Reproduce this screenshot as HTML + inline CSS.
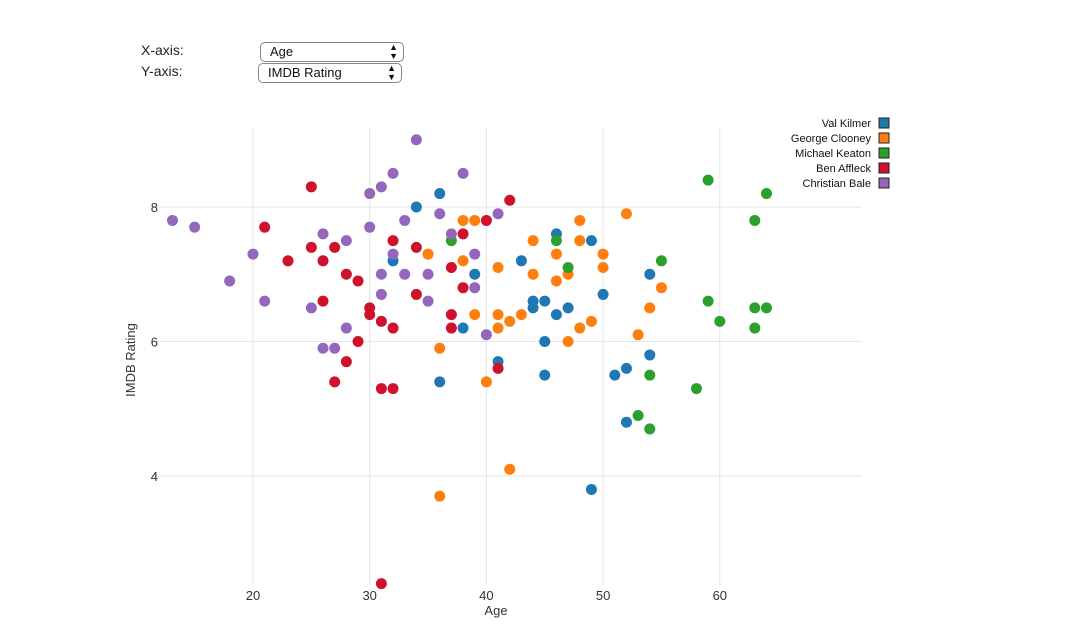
<!DOCTYPE html>
<html><head><meta charset="utf-8"><style>
body{margin:0;width:1084px;height:642px;background:#fff;font-family:"Liberation Sans",sans-serif;overflow:hidden;position:relative}
.lbl{position:absolute;font-size:14px;color:#222}
.sel{position:absolute;height:18px;border:1px solid #888;border-radius:5px;font-size:13px;line-height:18px;padding-left:9px;box-sizing:border-box;height:20px;color:#111;background:#fff}
.sel span.ar{position:absolute;right:5px;top:0;font-size:9px;line-height:9px}
</style></head><body>
<div class="lbl" style="left:141px;top:42px">X-axis:</div>
<div class="sel" style="left:260px;top:42px;width:144px">Age<span class="ar">▲<br>▼</span></div>
<div class="lbl" style="left:141px;top:63px">Y-axis:</div>
<div class="sel" style="left:258px;top:63px;width:144px">IMDB Rating<span class="ar">▲<br>▼</span></div>
<svg id="chart" width="1084" height="642" style="position:absolute;left:0;top:0" font-family="Liberation Sans, sans-serif"></svg>
<script>
const actors=["Val Kilmer","George Clooney","Michael Keaton","Ben Affleck","Christian Bale"];
const colors=["#1f77b4","#ff7f0e","#2ca02c","#d0112b","#9467bd"];
const xTicks=[20,30,40,50,60];
const yTicks=[4,6,8];
const valAge=[32,34,36,36,38,39,41,43,44,44,45,45,45,46,46,47,49,49,50,51,52,52,54,54];
const valRating=[7.2,8.0,8.2,5.4,6.2,7.0,5.7,7.2,6.6,6.5,6.6,6.0,5.5,7.6,6.4,6.5,7.5,3.8,6.7,5.5,5.6,4.8,7.0,5.8];
const georgeAge=[35,36,36,38,38,39,39,40,41,41,41,42,42,43,44,44,46,46,47,47,48,48,48,49,50,50,52,53,54,55];
const georgeRating=[7.3,5.9,3.7,7.8,7.2,7.8,6.4,5.4,7.1,6.4,6.2,6.3,4.1,6.4,7.5,7.0,7.3,6.9,7.0,6.0,7.8,7.5,6.2,6.3,7.3,7.1,7.9,6.1,6.5,6.8];
const michaelAge=[37,46,47,53,54,54,55,58,59,59,60,63,63,63,64,64];
const michaelRating=[7.5,7.5,7.1,4.9,5.5,4.7,7.2,5.3,8.4,6.6,6.3,7.8,6.5,6.2,8.2,6.5];
const benAge=[21,23,25,25,26,26,27,27,28,28,29,29,30,30,31,31,31,32,32,32,34,34,37,37,37,38,38,40,41,42];
const benRating=[7.7,7.2,8.3,7.4,7.2,6.6,7.4,5.4,7.0,5.7,6.9,6.0,6.5,6.4,6.3,5.3,2.4,7.5,6.2,5.3,7.4,6.7,7.1,6.4,6.2,7.6,6.8,7.8,5.6,8.1];
const christianAge=[13.1,15,18,20,21,25,26,28,28,26,27,30,30,31,31,31,32,32,33,33,34,35,35,36,37,38,39,39,40,41];
const christianRating=[7.8,7.7,6.9,7.3,6.6,6.5,7.6,7.5,6.2,5.9,5.9,8.2,7.7,8.3,7.0,6.7,8.5,7.3,7.8,7.0,9.0,7.0,6.6,7.9,7.6,8.5,7.3,6.8,6.1,7.9];
const series=[[valAge,valRating],[georgeAge,georgeRating],[michaelAge,michaelRating],[benAge,benRating],[christianAge,christianRating]];
const NS="http://www.w3.org/2000/svg",svg=document.getElementById('chart');
const X=v=>253+(v-20)*11.67, Y=v=>207-(v-8)*67.25;
function mk(t,a,p){const e=document.createElementNS(NS,t);for(const k in a)e.setAttribute(k,a[k]);(p||svg).appendChild(e);return e;}
xTicks.forEach(t=>{
 const l=mk('line',{x1:X(t),x2:X(t),y1:128,y2:585,stroke:'#e6e6e6'});
 
 
 const tx=mk('text',{x:X(t),y:600,'text-anchor':'middle','font-size':13,fill:'#333'});tx.textContent=t;
 
 
});
yTicks.forEach(t=>{
 const l=mk('line',{x1:150,x2:862,y1:Y(t),y2:Y(t),stroke:'#e6e6e6'});
 
 
 const tx=mk('text',{x:158,y:Y(t)+5,'text-anchor':'end','font-size':13,fill:'#333'});tx.textContent=t;
 
 
});
const xt=mk('text',{x:496,y:615,'text-anchor':'middle','font-size':13,fill:'#333'});xt.textContent='Age';


const yt=mk('text',{x:0,y:0,'text-anchor':'middle','font-size':13,fill:'#333',transform:'translate(135,360) rotate(-90)'});yt.textContent='IMDB Rating';


series.forEach((s,i)=>{
 s[0].forEach((a,j)=>{
  const c=mk('circle',{cx:X(a),cy:Y(s[1][j]),r:5.5,fill:colors[i]});
  
  
 });
});
actors.forEach((n,i)=>{
 const y=123+i*15;
 const t=mk('text',{x:871,y:y+4,'text-anchor':'end','font-size':11,fill:'#111'});t.textContent=n;
 
 
 const r=mk('rect',{x:879,y:y-5,width:10,height:10,fill:colors[i],stroke:'#222','stroke-width':1});
 
 
});
</script>
</body></html>
